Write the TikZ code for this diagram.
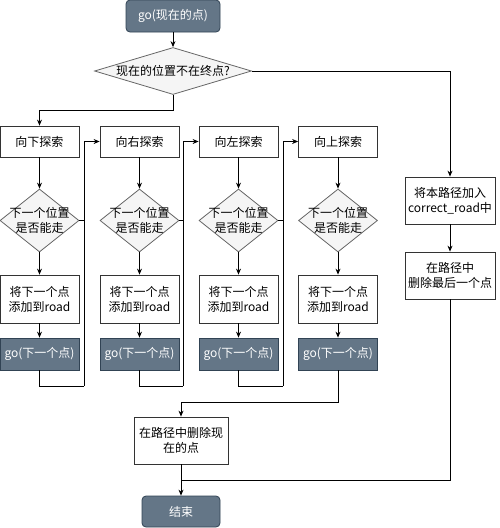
\documentclass[tikz,border=0pt]{standalone}
\usepackage{fontspec}
\setmainfont{Noto Sans CJK SC}
\usepackage{tikz}
\usetikzlibrary{calc,positioning,shapes,arrows.meta}

\definecolor{slate}{HTML}{647687}
\definecolor{slateline}{HTML}{314354}
\definecolor{diafill}{HTML}{F5F5F5}
\definecolor{dialine}{HTML}{666666}
\definecolor{boxline}{HTML}{333333}

\tikzset{
  box/.style={draw=boxline,fill=white,line width=0.8pt,inner sep=0pt,align=center,
    minimum width=79pt},
  gobox/.style={draw=slateline,fill=slate,text=white,line width=0.8pt,inner sep=0pt,
    minimum width=79pt,minimum height=32pt},
  endbox/.style={gobox,rounded corners=4pt},
  dia/.style={diamond,draw=dialine,fill=diafill,line width=0.8pt,inner sep=0pt},
  diatext/.style={align=center,inner sep=0pt},
  arr/.style={line width=0.8pt,-{Stealth[length=6pt,width=5pt]}},
  ln/.style={line width=0.8pt}
}

\begin{document}
\begin{tikzpicture}[x=1pt,y=-1pt,font=\fontsize{12}{15}\selectfont]
\useasboundingbox (0,0) rectangle (500,528);

% start and first test
\node[endbox,minimum width=94pt] (start) at (173,16) {go(现在的点)};
\node[dia,minimum width=157pt,minimum height=47pt] (q) at (173,71) {};
\node[diatext] (qt) at (q) {现在的位置不在终点?};

% column 1: down
\node[box,minimum height=31pt] (e1) at (39.5,141.5) {向下探索};
\node[dia,minimum width=79pt,minimum height=63pt] (d1) at (39.5,220.5) {};
\node[diatext] (t1) at (d1) {下一个位置\\是否能走};
\node[box,minimum height=48pt] (a1) at (39.5,299) {将下一个点\\添加到road};
\node[gobox] (g1) at (39.5,354) {go(下一个点)};

% column 2: right
\node[box,minimum height=31pt] (e2) at (139.5,141.5) {向右探索};
\node[dia,minimum width=79pt,minimum height=63pt] (d2) at (139.5,220.5) {};
\node[diatext] (t2) at (d2) {下一个位置\\是否能走};
\node[box,minimum height=48pt] (a2) at (139.5,299) {将下一个点\\添加到road};
\node[gobox] (g2) at (139.5,354) {go(下一个点)};

% column 3: left
\node[box,minimum height=31pt] (e3) at (238.5,141.5) {向左探索};
\node[dia,minimum width=79pt,minimum height=63pt] (d3) at (238.5,220.5) {};
\node[diatext] (t3) at (d3) {下一个位置\\是否能走};
\node[box,minimum height=48pt] (a3) at (238.5,299) {将下一个点\\添加到road};
\node[gobox] (g3) at (238.5,354) {go(下一个点)};

% column 4: up
\node[box,minimum height=31pt] (e4) at (338,141.5) {向上探索};
\node[dia,minimum width=79pt,minimum height=63pt] (d4) at (338,220.5) {};
\node[diatext] (t4) at (d4) {下一个位置\\是否能走};
\node[box,minimum height=48pt] (a4) at (338,299) {将下一个点\\添加到road};
\node[gobox] (g4) at (338,354) {go(下一个点)};

% right branch and end
\node[box,minimum width=90pt,minimum height=47pt] (r1) at (450,200.5) {将本路径加入\\correct\_road中};
\node[box,minimum width=90pt,minimum height=47pt] (r2) at (450,275.5) {在路径中\\删除最后一个点};
\node[box,minimum width=94pt,minimum height=47pt] (del) at (181,440.5) {在路径中删除现\\在的点};
\node[endbox,minimum width=78pt,minimum height=31pt] (fin) at (181,511.5) {结束};

\coordinate (L) at (39.5,110);
\coordinate (J) at (181,480);
\coordinate (K1) at (84,386);
\coordinate (K2) at (183,386);
\coordinate (K3) at (283,386);
\coordinate (K4) at (181,402);

\draw[arr] (start) -- (q);
\draw[ln] (q.south) |- (L);
\draw[arr] (L) -- (e1);
\draw[arr] (q.east) -| (r1.north);
\draw[arr] (r1) -- (r2);
\draw[ln] (r2.south) |- (J);
\draw[arr] (del) -- (fin);

\draw[arr] (e1) -- (d1);
\draw[arr] (d1) -- (a1);
\draw[arr] (a1) -- (g1);
\draw[arr] (e2) -- (d2);
\draw[arr] (d2) -- (a2);
\draw[arr] (a2) -- (g2);
\draw[arr] (e3) -- (d3);
\draw[arr] (d3) -- (a3);
\draw[arr] (a3) -- (g3);
\draw[arr] (e4) -- (d4);
\draw[arr] (d4) -- (a4);
\draw[arr] (a4) -- (g4);

\draw[ln] (g1.south) |- (K1);
\draw[arr] (K1) |- (e2.west);
\draw[ln] (d1.east) -- (K1 |- d1.east);
\draw[ln] (g2.south) |- (K2);
\draw[arr] (K2) |- (e3.west);
\draw[ln] (d2.east) -- (K2 |- d2.east);
\draw[ln] (g3.south) |- (K3);
\draw[arr] (K3) |- (e4.west);
\draw[ln] (d3.east) -- (K3 |- d3.east);
\draw[ln] (g4.south) |- (K4);
\draw[arr] (K4) -- (del);
\end{tikzpicture}
\end{document}
